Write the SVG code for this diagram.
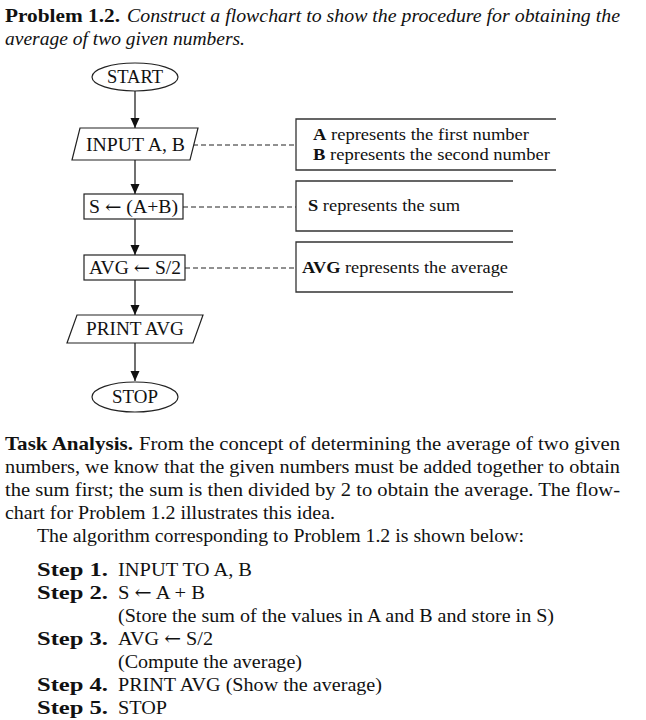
<svg xmlns="http://www.w3.org/2000/svg" width="646" height="720" viewBox="0 0 646 720">
<style>
text{font-family:"Liberation Serif","DejaVu Serif",serif;fill:#111}
.b{font-weight:bold}
.i{font-style:italic}
.ar{font-family:"DejaVu Serif",serif}
.body{font-size:19.5px}
.fc{font-size:18px}
.nt{font-size:17.5px}
.shape{fill:#fff;stroke:#222;stroke-width:1.2}
.note{fill:none;stroke:#333;stroke-width:1.3}
.conn{stroke:#111;stroke-width:1.2;fill:none}
.dash{stroke:#222;stroke-width:1;stroke-dasharray:5 3;fill:none}
</style>
<defs>
<marker id="ah" markerUnits="userSpaceOnUse" markerWidth="10" markerHeight="10" refX="10" refY="4.5" orient="auto">
<path d="M0,0 L10,4.5 L0,9 z" fill="#111"/>
</marker>
</defs>
<rect width="646" height="720" fill="#fff"/>

<g id="title">
<text class="body b" x="5" y="22" textLength="115" lengthAdjust="spacingAndGlyphs">Problem 1.2.</text>
<text class="body i" x="127" y="22" textLength="493" lengthAdjust="spacingAndGlyphs">Construct a flowchart to show the procedure for obtaining the</text>
<text class="body i" x="5" y="45" textLength="240" lengthAdjust="spacingAndGlyphs">average of two given numbers.</text>
</g>

<g id="connectors">
<line class="conn" x1="135" y1="91" x2="135" y2="128" marker-end="url(#ah)"/>
<line class="conn" x1="135" y1="160" x2="135" y2="194" marker-end="url(#ah)"/>
<line class="conn" x1="135" y1="219" x2="135" y2="255" marker-end="url(#ah)"/>
<line class="conn" x1="135" y1="280" x2="135" y2="315" marker-end="url(#ah)"/>
<line class="conn" x1="135" y1="343" x2="135" y2="381" marker-end="url(#ah)"/>
<line class="dash" x1="193" y1="145" x2="296" y2="145"/>
<line class="dash" x1="183" y1="207" x2="296" y2="207"/>
<line class="dash" x1="185" y1="268" x2="296" y2="268"/>
</g>

<g id="start">
<ellipse class="shape" cx="135" cy="77" rx="43" ry="14"/>
<text class="fc" x="135" y="83" text-anchor="middle" textLength="56" lengthAdjust="spacingAndGlyphs">START</text>
</g>
<g id="input">
<polygon class="shape" points="80,128 198,128 190,160 72,160"/>
<text class="fc" x="86" y="151" textLength="99" lengthAdjust="spacingAndGlyphs">INPUT A, B</text>
</g>
<g id="sum">
<rect class="shape" x="84" y="194" width="99" height="25"/>
<text class="fc" x="89" y="213" textLength="89" lengthAdjust="spacingAndGlyphs">S <tspan class="ar">←</tspan> (A+B)</text>
</g>
<g id="avg">
<rect class="shape" x="84" y="255" width="101" height="25"/>
<text class="fc" x="89" y="274" textLength="92" lengthAdjust="spacingAndGlyphs">AVG <tspan class="ar">←</tspan> S/2</text>
</g>
<g id="print">
<polygon class="shape" points="77,315 203,315 193,343 67,343"/>
<text class="fc" x="86" y="335" textLength="98" lengthAdjust="spacingAndGlyphs">PRINT AVG</text>
</g>
<g id="stop">
<ellipse class="shape" cx="135" cy="397" rx="43" ry="15"/>
<text class="fc" x="135" y="403" text-anchor="middle" textLength="46" lengthAdjust="spacingAndGlyphs">STOP</text>
</g>

<g id="note-ab">
<path class="note" d="M556,119 H296 V170 H556"/>
<text class="nt" x="313" y="140" textLength="216" lengthAdjust="spacingAndGlyphs"><tspan class="b">A</tspan> represents the first number</text>
<text class="nt" x="313" y="160" textLength="237" lengthAdjust="spacingAndGlyphs"><tspan class="b">B</tspan> represents the second number</text>
</g>
<g id="note-s">
<path class="note" d="M513,181 H296 V231 H513"/>
<text class="nt" x="308" y="211" textLength="152" lengthAdjust="spacingAndGlyphs"><tspan class="b">S</tspan> represents the sum</text>
</g>
<g id="note-avg">
<path class="note" d="M513,242 H296 V292 H513"/>
<text class="nt" x="302" y="273" textLength="206" lengthAdjust="spacingAndGlyphs"><tspan class="b">AVG</tspan> represents the average</text>
</g>

<g id="analysis">
<text class="body b" x="5" y="450" textLength="128" lengthAdjust="spacingAndGlyphs">Task Analysis.</text>
<text class="body" x="139" y="450" textLength="481" lengthAdjust="spacingAndGlyphs">From the concept of determining the average of two given</text>
<text class="body" x="5" y="473" textLength="615" lengthAdjust="spacingAndGlyphs">numbers, we know that the given numbers must be added together to obtain</text>
<text class="body" x="5" y="496" textLength="615" lengthAdjust="spacingAndGlyphs">the sum first; the sum is then divided by 2 to obtain the average. The flow-</text>
<text class="body" x="5" y="519" textLength="330" lengthAdjust="spacingAndGlyphs">chart for Problem 1.2 illustrates this idea.</text>
<text class="body" x="37" y="542" textLength="487" lengthAdjust="spacingAndGlyphs">The algorithm corresponding to Problem 1.2 is shown below:</text>
</g>

<g id="steps">
<text class="body b" x="37" y="576" textLength="71" lengthAdjust="spacingAndGlyphs">Step 1.</text>
<text class="body" x="118" y="576" textLength="134" lengthAdjust="spacingAndGlyphs">INPUT TO A, B</text>
<text class="body b" x="37" y="599" textLength="71" lengthAdjust="spacingAndGlyphs">Step 2.</text>
<text class="body" x="118" y="599" textLength="87" lengthAdjust="spacingAndGlyphs">S <tspan class="ar">←</tspan> A + B</text>
<text class="body" x="118" y="622" textLength="436" lengthAdjust="spacingAndGlyphs">(Store the sum of the values in A and B and store in S)</text>
<text class="body b" x="37" y="645" textLength="71" lengthAdjust="spacingAndGlyphs">Step 3.</text>
<text class="body" x="118" y="645" textLength="95" lengthAdjust="spacingAndGlyphs">AVG <tspan class="ar">←</tspan> S/2</text>
<text class="body" x="118" y="668" textLength="184" lengthAdjust="spacingAndGlyphs">(Compute the average)</text>
<text class="body b" x="37" y="691" textLength="71" lengthAdjust="spacingAndGlyphs">Step 4.</text>
<text class="body" x="118" y="691" textLength="264" lengthAdjust="spacingAndGlyphs">PRINT AVG (Show the average)</text>
<text class="body b" x="37" y="714" textLength="71" lengthAdjust="spacingAndGlyphs">Step 5.</text>
<text class="body" x="118" y="714" textLength="49" lengthAdjust="spacingAndGlyphs">STOP</text>
</g>
</svg>
